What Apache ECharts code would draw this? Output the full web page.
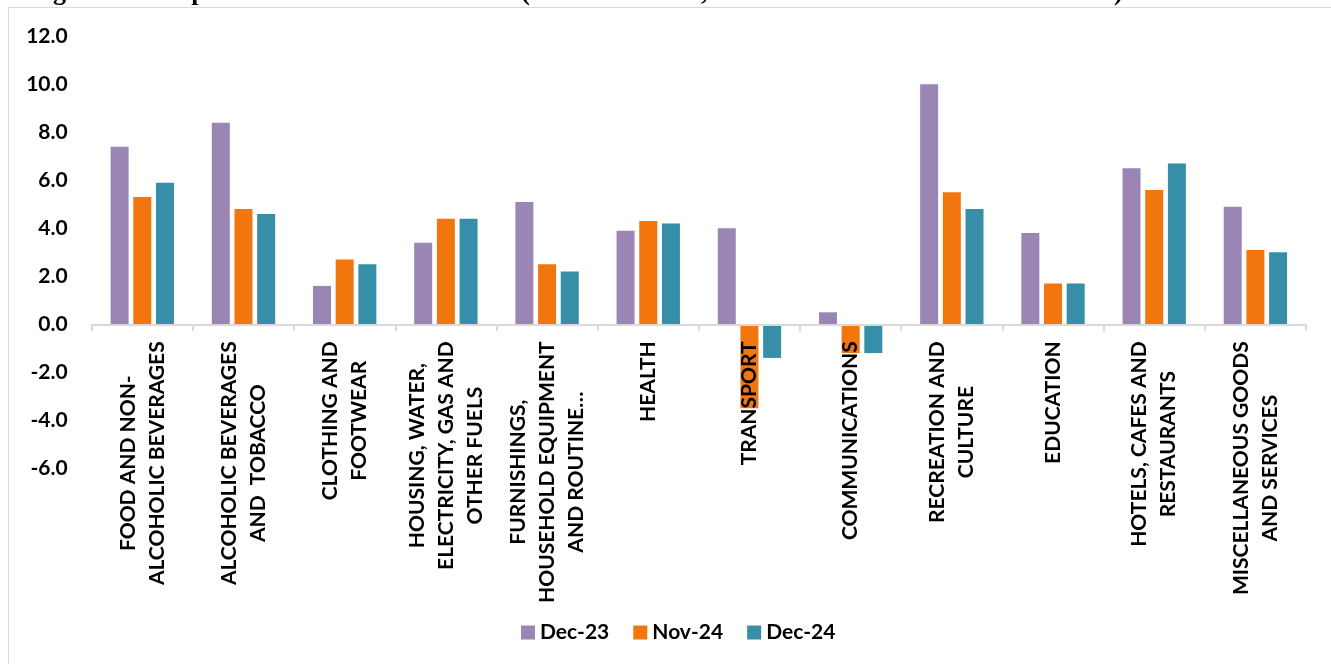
<!DOCTYPE html>
<html>
<head>
<meta charset="utf-8">
<script src="https://cdn.jsdelivr.net/npm/echarts@6/dist/echarts.min.js"></script>
<style>
html,body{margin:0;padding:0;background:#fff;}
#chart{width:1331px;height:664px;}
</style>
</head>
<body>
<div id="chart"></div>
<script>
const titleText = "Figure 4: Comparison of Inflation Rates for (December 2023, November 2024 and December 2024)";
const categories = [
  "FOOD AND NON-\nALCOHOLIC BEVERAGES",
  "ALCOHOLIC BEVERAGES\nAND  TOBACCO",
  "CLOTHING AND\nFOOTWEAR",
  "HOUSING, WATER,\nELECTRICITY, GAS AND\nOTHER FUELS",
  "FURNISHINGS,\nHOUSEHOLD EQUIPMENT\nAND ROUTINE…",
  "HEALTH",
  "TRANSPORT",
  "COMMUNICATIONS",
  "RECREATION AND\nCULTURE",
  "EDUCATION",
  "HOTELS, CAFES AND\nRESTAURANTS",
  "MISCELLANEOUS GOODS\nAND SERVICES"
];
const seriesNames = ["Dec-23", "Nov-24", "Dec-24"];
const dec23 = [7.4, 8.4, 1.6, 3.4, 5.1, 3.9, 4.0, 0.5, 10.0, 3.8, 6.5, 4.9];
const nov24 = [5.3, 4.8, 2.7, 4.4, 2.5, 4.3, -3.5, -1.2, 5.5, 1.7, 5.6, 3.1];
const dec24 = [5.9, 4.6, 2.5, 4.4, 2.2, 4.2, -1.4, -1.2, 4.8, 1.7, 6.7, 3.0];
const yTicks = { min: -6, max: 12, interval: 2 };

const colors = ["#9B85B5", "#F2760E", "#378EA8"];
const FONT = "Lato";

const chart = echarts.init(document.getElementById('chart'), null, { renderer: 'canvas' });

const mkSeries = (name, data, color) => ({
  name: name,
  type: 'bar',
  data: data,
  barWidth: 18,
  barGap: '26%',
  itemStyle: { color: color },
  emphasis: { disabled: true }
});

chart.setOption({
  animation: false,
  color: colors,
  graphic: [
    {
      type: 'text',
      x: 30,
      y: 6,
      style: {
        text: titleText,
        font: 'bold 26px "Liberation Serif"',
        fill: '#000',
        verticalAlign: 'bottom'
      },
      silent: true
    },
    {
      type: 'rect',
      shape: { x: 0, y: 7.5, width: 1400, height: 20 },
      style: { fill: '#fff' },
      silent: true
    },
    {
      type: 'rect',
      shape: { x: 8.5, y: 7.5, width: 1400, height: 800 },
      style: { fill: 'none', stroke: '#d9d9d9', lineWidth: 1 },
      silent: true
    }
  ],
  grid: { left: 91.7, right: 25, top: 36.3, bottom: 195.7, containLabel: false, outerBoundsMode: 'none' },
  legend: {
    data: seriesNames,
    left: 516,
    top: 617,
    itemWidth: 14,
    itemHeight: 14,
    itemGap: 24,
    icon: 'rect',
    textStyle: { fontFamily: FONT, fontWeight: 'bold', fontSize: 21, color: '#000' }
  },
  xAxis: {
    type: 'category',
    data: categories,
    offset: -144,
    z: 5,
    axisLine: { onZero: false, lineStyle: { color: '#d9d9d9', width: 2 } },
    axisTick: { show: true, length: 7, lineStyle: { color: '#d9d9d9', width: 2 } },
    axisLabel: {
      interval: 0,
      rotate: 90,
      margin: 17,
      formatter: v => v.split('\n').map(s => '{c|' + s + '}').join('\n'),
      rich: {
        c: { align: 'center', fontFamily: FONT, fontWeight: 'bold', fontSize: 21, color: '#000', lineHeight: 29 }
      }
    }
  },
  yAxis: {
    type: 'value',
    min: yTicks.min,
    max: yTicks.max,
    interval: yTicks.interval,
    axisLine: { show: false },
    axisTick: { show: false },
    splitLine: { show: false },
    axisLabel: {
      margin: 24,
      formatter: v => v.toFixed(1),
      fontFamily: FONT,
      fontWeight: 'bold',
      fontSize: 21,
      color: '#000'
    }
  },
  series: [
    mkSeries(seriesNames[0], dec23, colors[0]),
    mkSeries(seriesNames[1], nov24, colors[1]),
    mkSeries(seriesNames[2], dec24, colors[2])
  ]
});
</script>
</body>
</html>
